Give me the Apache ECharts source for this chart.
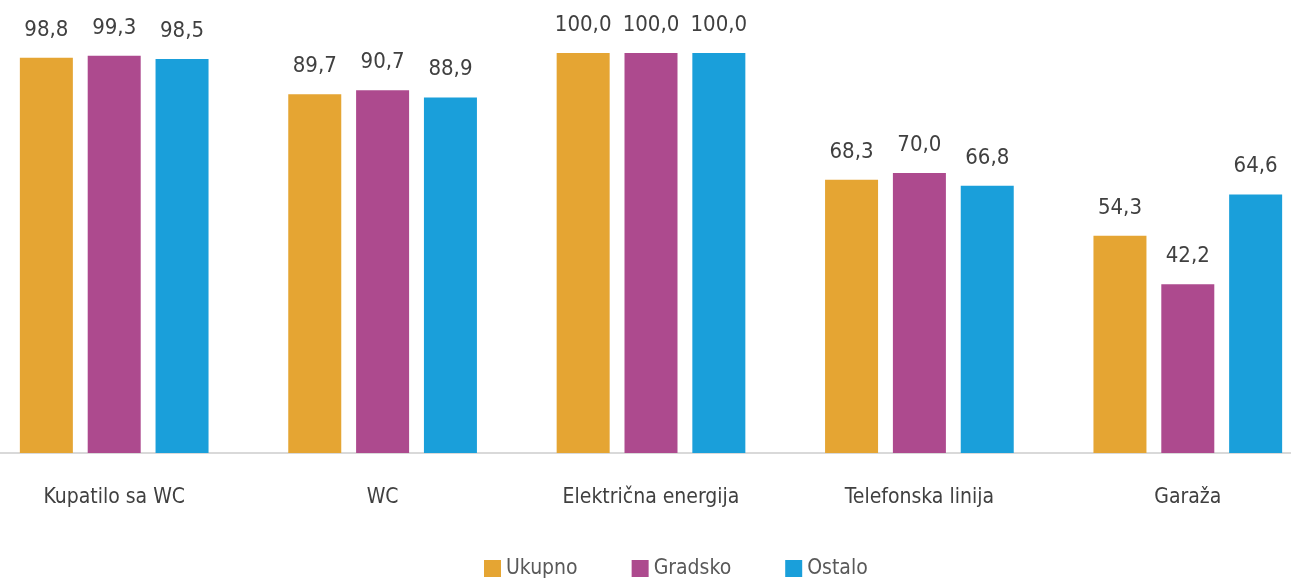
<!DOCTYPE html>
<html>
<head>
<meta charset="utf-8">
<script src="https://cdn.jsdelivr.net/npm/echarts@6/dist/echarts.min.js"></script>
<style>
html,body{margin:0;padding:0;background:#fff;}
#chart{width:1291px;height:585px;}
</style>
</head>
<body>
<div id="chart"></div>
<script>
const categories = ['Kupatilo sa WC', 'WC', 'Električna energija', 'Telefonska linija', 'Garaža'];
const seriesNames = ['Ukupno', 'Gradsko', 'Ostalo'];
const ukupno = [98.8, 89.7, 100.0, 68.3, 54.3];
const gradsko = [99.3, 90.7, 100.0, 70.0, 42.2];
const ostalo = [98.5, 88.9, 100.0, 66.8, 64.6];
const colors = ['#E5A533', '#AD4A8E', '#1A9FDA'];

const FONT = '"DejaVu Sans Condensed", "Liberation Sans Narrow", sans-serif';
const chart = echarts.init(document.getElementById('chart'));
const dataSets = [ukupno, gradsko, ostalo];

chart.setOption({
  animation: false,
  color: colors,
  grid: { left: -20, right: -31, top: 53, bottom: 132, containLabel: false, outerBoundsMode: 'none' },
  legend: {
    bottom: 1,
    left: 479,
    itemWidth: 17,
    itemHeight: 17,
    itemGap: 54,
    itemTextGap: 7,
    icon: 'rect',
    textStyle: { fontFamily: FONT, fontSize: 21, color: '#595959' },
    data: seriesNames
  },
  xAxis: {
    type: 'category',
    data: categories,
    axisLine: { show: true, lineStyle: { color: '#D9D9D9', width: 2 } },
    axisTick: { show: false },
    axisLabel: { margin: 34, fontFamily: FONT, fontSize: 21, color: '#404040' }
  },
  yAxis: {
    type: 'value',
    min: 0,
    max: 100,
    show: false,
    splitLine: { show: false }
  },
  series: seriesNames.map((name, i) => ({
    name: name,
    type: 'bar',
    data: dataSets[i],
    barWidth: 53,
    barGap: '28%',
    itemStyle: { color: colors[i] },
    label: {
      show: true,
      position: 'top',
      distance: 17,
      fontFamily: FONT,
      fontSize: 22,
      color: '#404040',
      formatter: p => p.value.toFixed(1).replace('.', ',')
    }
  }))
});
</script>
</body>
</html>
